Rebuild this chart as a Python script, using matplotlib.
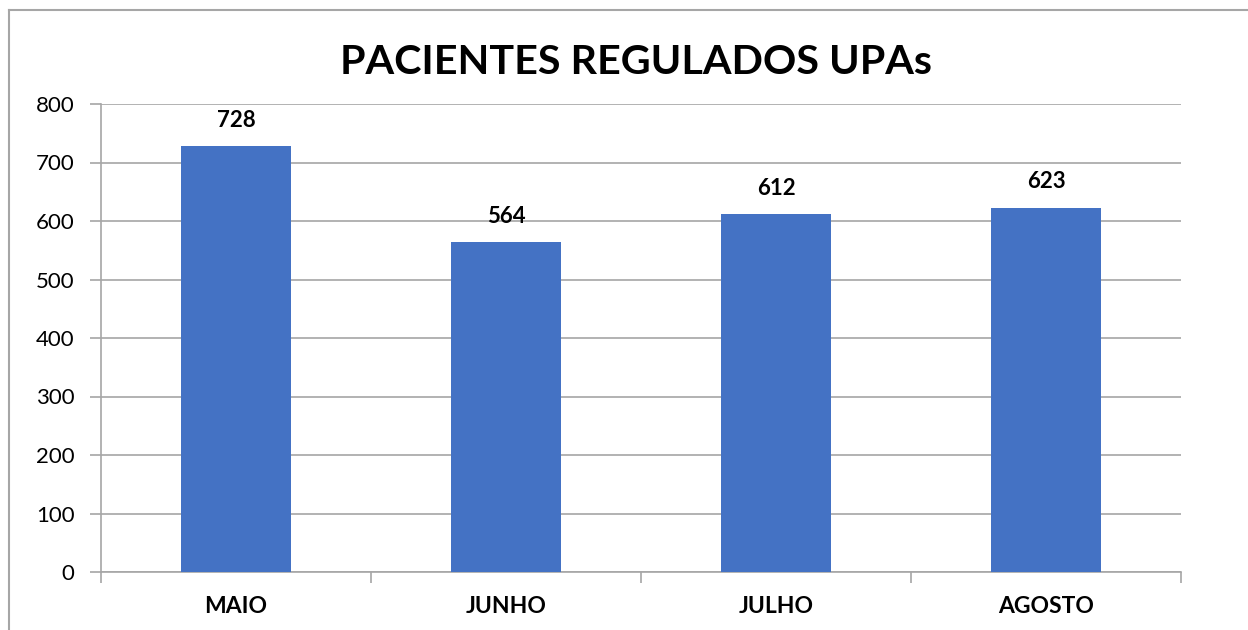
import numpy as np
import matplotlib
matplotlib.use("Agg")
import matplotlib.pyplot as plt
from matplotlib.lines import Line2D

meses = ["MAIO", "JUNHO", "JULHO", "AGOSTO"]
pacientes = [728, 564, 612, 623]
yticks = [0, 100, 200, 300, 400, 500, 600, 700, 800]

plt.rcParams['font.family'] = ['Lato', 'DejaVu Sans']

fig = plt.figure(figsize=(12.48, 6.3), dpi=100)
ax = fig.add_axes([101 / 1248, 1 - 572 / 630, 1080 / 1248, 468 / 630])

x = np.arange(len(meses))
bars = ax.bar(x, pacientes, width=0.41, color="#4472C4", zorder=3)
for b, v in zip(bars, pacientes):
    ax.text(b.get_x() + b.get_width() / 2, v + 26, str(v), ha="center", va="bottom",
            fontsize=16, fontweight="bold", color="#000000")

ax.set_xlim(-0.5, len(meses) - 0.5)
ax.set_ylim(0, 800)
ax.set_yticks(yticks)
ax.set_yticklabels([str(t) for t in yticks], fontsize=16)
ax.yaxis.grid(True, color="#A6A6A6", linewidth=1.2, zorder=0)

# category boundary ticks on x
ax.set_xticks(np.arange(-0.5, len(meses), 1.0))
ax.set_xticklabels([])
ax.tick_params(axis="x", length=8, color="#A6A6A6", width=1.2)
ax.tick_params(axis="y", length=8, color="#A6A6A6", width=1.2, pad=11)
for i, m in enumerate(meses):
    ax.text(i, -41, m, ha="center", va="top", fontsize=16.5, fontweight="bold",
            transform=ax.transData)

for s in ["top", "right"]:
    ax.spines[s].set_visible(False)
ax.spines["left"].set_color("#A6A6A6")
ax.spines["bottom"].set_color("#A6A6A6")
ax.spines["left"].set_linewidth(1.2)
ax.spines["bottom"].set_linewidth(1.2)

fig.text(636 / 1248, 1 - 62 / 630, "PACIENTES REGULADOS UPAs", ha="center", va="center",
         fontsize=29.7, fontweight="bold")

# outer chart border (left and top visible)
fig.add_artist(Line2D([8.5 / 1248, 8.5 / 1248], [0, 1 - 10 / 630], transform=fig.transFigure,
                      color="#A6A6A6", linewidth=1.5))
fig.add_artist(Line2D([8.5 / 1248, 1], [1 - 10 / 630, 1 - 10 / 630], transform=fig.transFigure,
                      color="#A6A6A6", linewidth=1.5))

fig.savefig("out.png", dpi=100)
